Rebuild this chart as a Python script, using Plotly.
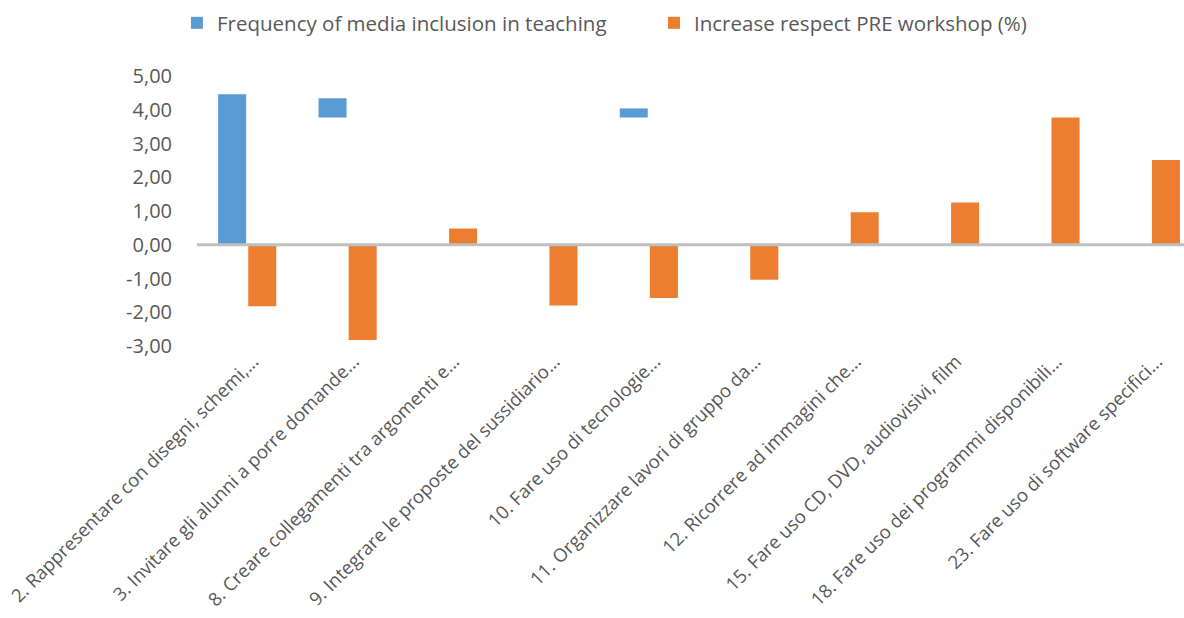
import plotly.graph_objects as go

# Survey items (truncated as in the original workbook)
categories = [
    "2. Rappresentare con disegni, schemi,...",
    "3. Invitare gli alunni a porre domande...",
    "8. Creare collegamenti tra argomenti e...",
    "9. Integrare le proposte del sussidiario...",
    "10. Fare uso di tecnologie...",
    "11. Organizzare lavori di gruppo da...",
    "12. Ricorrere ad immagini che...",
    "15. Fare uso CD, DVD, audiovisivi, film",
    "18. Fare uso dei programmi disponibili...",
    "23. Fare uso di software specifici...",
]

# Frequency series: visible segment of each bar (bottom / top)
freq_low = [0.0, 3.77, None, None, 3.77, None, None, None, None, None]
freq_high = [4.46, 4.34, None, None, 4.04, None, None, None, None, None]

# Increase with respect to the PRE workshop (%)
increase = [-1.82, -2.82, 0.48, -1.80, -1.58, -1.04, 0.96, 1.25, 3.77, 2.51]

y_tick_vals = [5, 4, 3, 2, 1, 0, -1, -2, -3]
y_tick_text = ["5,00", "4,00", "3,00", "2,00", "1,00", "0,00", "-1,00", "-2,00", "-3,00"]

BLUE = "#5B9BD5"
ORANGE = "#ED7D31"
TEXT = "#595959"
FONT = "Open Sans"

freq_len = [None if lo is None else hi - lo for lo, hi in zip(freq_low, freq_high)]

fig = go.Figure()
fig.add_trace(go.Bar(
    x=categories, y=freq_len, base=freq_low,
    name="Frequency of media inclusion in teaching",
    marker=dict(color=BLUE, line=dict(width=0)),
    legend="legend",
))
fig.add_trace(go.Bar(
    x=categories, y=increase,
    name="Increase respect PRE workshop (%)",
    marker=dict(color=ORANGE, line=dict(width=0)),
    legend="legend2",
))

# zero baseline drawn over the bars
fig.add_shape(type="line", xref="paper", yref="y", x0=0, x1=1, y0=0, y1=0,
              line=dict(color="#BFBFBF", width=3), layer="above")

legend_style = dict(
    orientation="h", xanchor="left",
    yref="container", y=1 - 23 / 618, yanchor="middle",
    font=dict(family=FONT, size=20.5, color=TEXT),
    bgcolor="rgba(0,0,0,0)",
)

fig.update_layout(
    width=1184, height=618,
    margin=dict(l=197, r=0, t=76, b=272, autoexpand=False),
    paper_bgcolor="white", plot_bgcolor="white",
    barmode="group", bargap=0.40, bargroupgap=0.07,
    font=dict(family=FONT, color=TEXT, size=18),
    showlegend=True,
    legend=dict(x=-0.0203, **legend_style),
    legend2=dict(x=0.463, **legend_style),
    xaxis=dict(
        range=[-0.5, 9.33], showgrid=False, zeroline=False, showline=False,
        ticks="", tickangle=-45, ticklabelshift=6,
        tickfont=dict(family=FONT, size=18.5, color=TEXT),
    ),
    yaxis=dict(
        range=[-3, 5], showgrid=False, zeroline=False, showline=False,
        tickmode="array", tickvals=y_tick_vals, ticktext=y_tick_text,
        ticks="", ticklabelstandoff=24,
        tickfont=dict(family=FONT, size=20, color=TEXT),
    ),
)

fig.write_html("out.html")
